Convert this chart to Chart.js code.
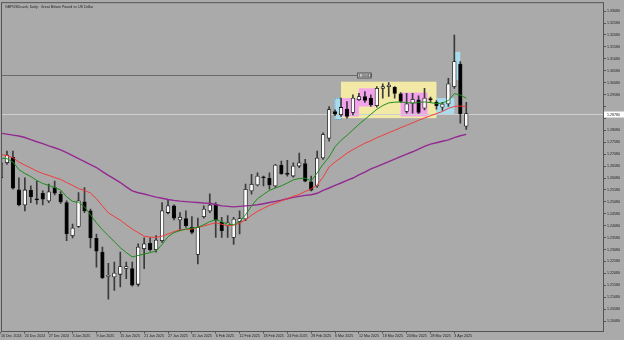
<!DOCTYPE html>
<html>
<head>
<meta charset="utf-8">
<script src="https://cdn.jsdelivr.net/npm/chart.js@4.4.1/dist/chart.umd.min.js"></script>
<style>
  html, body { margin: 0; padding: 0; background: #aaaaaa; }
  canvas { display: block; }
</style>
</head>
<body>
<canvas id="chart" width="624" height="340"></canvas>
<script>
// GBPUSD daily bars, 16 Dec 2024 .. 7 Apr 2025
const dates = [
    '16 Dec 2024', '17 Dec 2024', '18 Dec 2024', '19 Dec 2024', '20 Dec 2024',
    '23 Dec 2024', '24 Dec 2024', '26 Dec 2024', '27 Dec 2024', '30 Dec 2024',
    '31 Dec 2024', '2 Jan 2025', '3 Jan 2025', '6 Jan 2025', '7 Jan 2025',
    '8 Jan 2025', '9 Jan 2025', '10 Jan 2025', '13 Jan 2025', '14 Jan 2025',
    '15 Jan 2025', '16 Jan 2025', '17 Jan 2025', '20 Jan 2025', '21 Jan 2025',
    '22 Jan 2025', '23 Jan 2025', '24 Jan 2025', '27 Jan 2025', '28 Jan 2025',
    '29 Jan 2025', '30 Jan 2025', '31 Jan 2025', '3 Feb 2025', '4 Feb 2025',
    '5 Feb 2025', '6 Feb 2025', '7 Feb 2025', '10 Feb 2025', '11 Feb 2025',
    '12 Feb 2025', '13 Feb 2025', '14 Feb 2025', '17 Feb 2025', '18 Feb 2025',
    '19 Feb 2025', '20 Feb 2025', '21 Feb 2025', '24 Feb 2025', '25 Feb 2025',
    '26 Feb 2025', '27 Feb 2025', '28 Feb 2025', '3 Mar 2025', '4 Mar 2025',
    '5 Mar 2025', '6 Mar 2025', '7 Mar 2025', '10 Mar 2025', '11 Mar 2025',
    '12 Mar 2025', '13 Mar 2025', '14 Mar 2025', '17 Mar 2025', '18 Mar 2025',
    '19 Mar 2025', '20 Mar 2025', '21 Mar 2025', '24 Mar 2025', '25 Mar 2025',
    '26 Mar 2025', '27 Mar 2025', '28 Mar 2025', '31 Mar 2025', '1 Apr 2025',
    '2 Apr 2025', '3 Apr 2025', '4 Apr 2025', '7 Apr 2025'
];

const opens = [
    1.2609, 1.2672, 1.2695, 1.2558, 1.2495, 1.2557, 1.2520, 1.2544, 1.2512, 1.2568,
    1.2540, 1.2505, 1.2366, 1.2405, 1.2508, 1.2470, 1.2355, 1.2297, 1.2195, 1.2193,
    1.2204, 1.2229, 1.2228, 1.2162, 1.2311, 1.2334, 1.2307, 1.2345, 1.2463, 1.2491,
    1.2432, 1.2438, 1.2401, 1.2287, 1.2446, 1.2470, 1.2498, 1.2422, 1.2408, 1.2359,
    1.2426, 1.2436, 1.2554, 1.2579, 1.2613, 1.2607, 1.2575, 1.2662, 1.2629, 1.2616,
    1.2658, 1.2668, 1.2592, 1.2575, 1.2692, 1.2775, 1.2887, 1.2873, 1.2897, 1.2883,
    1.2936, 1.2950, 1.2943, 1.2911, 1.2984, 1.2991, 1.2988, 1.2961, 1.2887, 1.2922,
    1.2936, 1.2901, 1.2941, 1.2925, 1.2905, 1.2919, 1.2991, 1.3086, 1.2825
];
const highs = [
    1.2686, 1.2721, 1.2721, 1.2609, 1.2609, 1.2575, 1.2595, 1.2554, 1.2582, 1.2595,
    1.2551, 1.2512, 1.2415, 1.2547, 1.2568, 1.2478, 1.2373, 1.2318, 1.2250, 1.2255,
    1.2297, 1.2255, 1.2255, 1.2332, 1.2357, 1.2357, 1.2366, 1.2505, 1.2519, 1.2495,
    1.2463, 1.2470, 1.2446, 1.2440, 1.2491, 1.2542, 1.2505, 1.2443, 1.2450, 1.2443,
    1.2470, 1.2582, 1.2623, 1.2630, 1.2616, 1.2630, 1.2665, 1.2679, 1.2682, 1.2672,
    1.2713, 1.2686, 1.2616, 1.2721, 1.2797, 1.2908, 1.2894, 1.2943, 1.2929, 1.2957,
    1.2963, 1.2970, 1.2957, 1.2991, 1.3003, 1.3008, 1.2991, 1.2966, 1.2963, 1.2963,
    1.2953, 1.2984, 1.2947, 1.2933, 1.2925, 1.3026, 1.3207, 1.3096, 1.2925
];
const lows = [
    1.2603, 1.2665, 1.2561, 1.2491, 1.2470, 1.2505, 1.2498, 1.2495, 1.2505, 1.2537,
    1.2501, 1.2345, 1.2357, 1.2401, 1.2463, 1.2315, 1.2234, 1.2186, 1.2100, 1.2137,
    1.2151, 1.2186, 1.2154, 1.2154, 1.2228, 1.2301, 1.2297, 1.2338, 1.2457, 1.2432,
    1.2387, 1.2401, 1.2373, 1.2248, 1.2440, 1.2463, 1.2359, 1.2359, 1.2359, 1.2329,
    1.2373, 1.2429, 1.2540, 1.2575, 1.2575, 1.2561, 1.2568, 1.2623, 1.2616, 1.2612,
    1.2651, 1.2592, 1.2554, 1.2568, 1.2686, 1.2762, 1.2869, 1.2866, 1.2859, 1.2873,
    1.2933, 1.2925, 1.2908, 1.2905, 1.2943, 1.2950, 1.2943, 1.2925, 1.2880, 1.2880,
    1.2878, 1.2894, 1.2925, 1.2897, 1.2891, 1.2908, 1.2984, 1.2838, 1.2812
];
const closes = [
    1.2672, 1.2704, 1.2565, 1.2495, 1.2558, 1.2530, 1.2516, 1.2519, 1.2550, 1.2544,
    1.2508, 1.2373, 1.2398, 1.2512, 1.2470, 1.2357, 1.2301, 1.2190, 1.2200, 1.2209,
    1.2237, 1.2237, 1.2158, 1.2318, 1.2332, 1.2307, 1.2348, 1.2470, 1.2491, 1.2440,
    1.2443, 1.2408, 1.2380, 1.2401, 1.2478, 1.2495, 1.2432, 1.2387, 1.2420, 1.2436,
    1.2438, 1.2561, 1.2582, 1.2616, 1.2609, 1.2579, 1.2662, 1.2626, 1.2623, 1.2658,
    1.2672, 1.2595, 1.2557, 1.2692, 1.2790, 1.2895, 1.2876, 1.2904, 1.2866, 1.2943,
    1.2950, 1.2933, 1.2915, 1.2984, 1.2991, 1.2998, 1.2963, 1.2929, 1.2919, 1.2938,
    1.2883, 1.2943, 1.2936, 1.2911, 1.2918, 1.3003, 1.3096, 1.2878, 1.2878
];

// moving averages
const maFast = [
    1.2691, 1.2689, 1.2675, 1.2643, 1.2627, 1.2614, 1.2598, 1.2585, 1.2577, 1.2568,
    1.2558, 1.2529, 1.2510, 1.2506, 1.2487, 1.2454, 1.2420, 1.2391, 1.2366, 1.2341,
    1.2316, 1.2295, 1.2277, 1.2283, 1.2289, 1.2295, 1.2302, 1.2329, 1.2362, 1.2379,
    1.2387, 1.2394, 1.2398, 1.2401, 1.2412, 1.2425, 1.2433, 1.2425, 1.2414, 1.2412,
    1.2425, 1.2454, 1.2491, 1.2521, 1.2539, 1.2556, 1.2566, 1.2575, 1.2587, 1.2600,
    1.2606, 1.2607, 1.2596, 1.2629, 1.2666, 1.2696, 1.2739, 1.2766, 1.2787, 1.2810,
    1.2833, 1.2854, 1.2875, 1.2896, 1.2912, 1.2923, 1.2926, 1.2927, 1.2924, 1.2922,
    1.2925, 1.2927, 1.2924, 1.2920, 1.2922, 1.2933, 1.2962, 1.2956, 1.2943
];
const maMid = [
    1.2706, 1.2702, 1.2693, 1.2675, 1.2662, 1.2650, 1.2637, 1.2627, 1.2619, 1.2610,
    1.2602, 1.2589, 1.2577, 1.2564, 1.2556, 1.2545, 1.2521, 1.2491, 1.2462, 1.2446,
    1.2431, 1.2412, 1.2394, 1.2379, 1.2364, 1.2360, 1.2359, 1.2364, 1.2373, 1.2383,
    1.2391, 1.2392, 1.2394, 1.2401, 1.2407, 1.2414, 1.2420, 1.2414, 1.2408, 1.2410,
    1.2418, 1.2433, 1.2452, 1.2468, 1.2481, 1.2493, 1.2502, 1.2512, 1.2521, 1.2531,
    1.2539, 1.2552, 1.2562, 1.2579, 1.2612, 1.2654, 1.2675, 1.2693, 1.2712, 1.2727,
    1.2741, 1.2754, 1.2764, 1.2777, 1.2787, 1.2798, 1.2808, 1.2819, 1.2829, 1.2839,
    1.2850, 1.2860, 1.2869, 1.2878, 1.2887, 1.2900, 1.2908, 1.2910, 1.2908
];
const maSlow = [
    1.2796, 1.2792, 1.2788, 1.2784, 1.2778, 1.2769, 1.2760, 1.2752, 1.2743, 1.2735,
    1.2726, 1.2714, 1.2702, 1.2689, 1.2677, 1.2664, 1.2652, 1.2635, 1.2619, 1.2604,
    1.2589, 1.2571, 1.2554, 1.2546, 1.2541, 1.2534, 1.2528, 1.2523, 1.2518, 1.2514,
    1.2511, 1.2509, 1.2507, 1.2505, 1.2503, 1.2502, 1.2497, 1.2491, 1.2489, 1.2487,
    1.2489, 1.2491, 1.2493, 1.2496, 1.2500, 1.2505, 1.2510, 1.2515, 1.2521, 1.2527,
    1.2531, 1.2535, 1.2538, 1.2544, 1.2556, 1.2566, 1.2577, 1.2587, 1.2598, 1.2608,
    1.2621, 1.2633, 1.2646, 1.2656, 1.2666, 1.2677, 1.2687, 1.2698, 1.2708, 1.2718,
    1.2729, 1.2741, 1.2750, 1.2756, 1.2762, 1.2768, 1.2777, 1.2785, 1.2791
];

const xTickIdx = [0, 4, 8, 12, 16, 20, 24, 28, 32, 36, 40, 44, 48, 52, 56, 60, 64, 68, 72, 76];
const yTicks = [
    1.3308, 1.3258, 1.3208, 1.3158, 1.3108, 1.3058, 1.3008, 1.2958, 1.2908,
    1.2858, 1.2808, 1.2758, 1.2708, 1.2658, 1.2608, 1.2558, 1.2508, 1.2458,
    1.2408, 1.2358, 1.2308, 1.2258, 1.2208, 1.2158, 1.2108, 1.2058, 1.2008
];

// drawn objects: [from bar, to bar, top price, bottom price]
const zoneBox = [57, 73, 1.3012, 1.2859];
const pinkBoxes = [[57, 60, 1.2943, 1.2866], [60, 62.7, 1.2984, 1.2908], [67, 71.5, 1.2966, 1.2866]];
const blueBoxes = [[55.9, 57, 1.2943, 1.2855], [73, 76, 1.2943, 1.2874], [76, 77, 1.3137, 1.3019]];
const levelPrice = 1.30413;
const levelEnd = 59.7;
const lastPrice = 1.2878;

const FONT = 'Liberation Sans, Arial, sans-serif';

const bodies = dates.map(function(d, i) {
    return { x: i, y: [Math.min(opens[i], closes[i]), Math.max(opens[i], closes[i])] };
});
const wicks = dates.map(function(d, i) { return { x: i, y: [lows[i], highs[i]] }; });
const bodyColors = dates.map(function(d, i) { return closes[i] >= opens[i] ? '#ffffff' : '#000000'; });
const toPoints = function(arr) { return arr.map(function(v, i) { return { x: i, y: v }; }); };

const drawings = {
    id: 'drawings',
    beforeDatasetsDraw: function(chart) {
        const ctx = chart.ctx, a = chart.chartArea, x = chart.scales.x, y = chart.scales.y;
        ctx.save();
        ctx.beginPath();
        ctx.rect(a.left, a.top, a.right - a.left, a.bottom - a.top);
        ctx.clip();
        const box = function(b, fill) {
            const x1 = x.getPixelForValue(b[0]), x2 = x.getPixelForValue(b[1]);
            const y1 = y.getPixelForValue(b[2]), y2 = y.getPixelForValue(b[3]);
            ctx.fillStyle = fill;
            ctx.fillRect(x1, y1, x2 - x1, y2 - y1);
            return [x1, y1, x2 - x1, y2 - y1];
        };
        box(zoneBox, '#f3e9a6');
        pinkBoxes.forEach(function(b) { box(b, '#f2a3ec'); });
        blueBoxes.forEach(function(b, i) {
            const r = box(b, '#a8dcec');
            if (i === 0) {
                ctx.strokeStyle = '#5f9fc0';
                ctx.lineWidth = 1;
                ctx.setLineDash([1, 1]);
                ctx.strokeRect(r[0] + 0.5, r[1] + 0.5, r[2], r[3]);
                ctx.setLineDash([]);
            }
        });

        // horizontal level
        const ly = Math.round(y.getPixelForValue(levelPrice)) + 0.5;
        ctx.strokeStyle = '#6a6a6a';
        ctx.lineWidth = 1;
        ctx.beginPath();
        ctx.moveTo(a.left, ly);
        ctx.lineTo(x.getPixelForValue(levelEnd), ly);
        ctx.stroke();

        // bid line
        const py = Math.round(y.getPixelForValue(lastPrice)) + 0.5;
        ctx.strokeStyle = '#cfcfcf';
        ctx.beginPath();
        ctx.moveTo(a.left, py);
        ctx.lineTo(a.right, py);
        ctx.stroke();
        ctx.restore();
    },
    afterDraw: function(chart) {
        const ctx = chart.ctx, a = chart.chartArea, x = chart.scales.x, y = chart.scales.y;
        ctx.save();
        // frame
        ctx.strokeStyle = '#555555';
        ctx.lineWidth = 1;
        ctx.strokeRect(a.left - 0.5, a.top - 0.5, a.right - a.left + 1, a.bottom - a.top + 1);

        ctx.font = '3.6px ' + FONT;
        ctx.textBaseline = 'middle';

        // level label
        const lx = x.getPixelForValue(levelEnd);
        const ly = Math.round(y.getPixelForValue(levelPrice)) + 0.5;
        ctx.fillStyle = '#c4c4c4';
        ctx.fillRect(lx, ly - 2.5, 14, 5);
        ctx.strokeStyle = '#505050';
        ctx.strokeRect(lx + 0.5, ly - 2.5, 13.5, 5);
        ctx.fillStyle = '#202020';
        ctx.fillText(levelPrice.toFixed(5), lx + 1.6, ly);

        // bid label on the price axis
        const py = Math.round(y.getPixelForValue(lastPrice)) + 0.5;
        ctx.fillStyle = '#ffffff';
        ctx.fillRect(a.right + 1, py - 3, 20, 6);
        ctx.fillStyle = '#202020';
        ctx.fillText(lastPrice.toFixed(5), a.right + 4, py);

        // title
        ctx.textBaseline = 'top';
        ctx.fillText('GBPUSDcash, Daily:  Great Britain Pound vs US Dollar', 5, 5);
        ctx.restore();
    }
};

new Chart(document.getElementById('chart'), {
    type: 'bar',
    data: {
        datasets: [
            {
                type: 'line', label: 'MA fast', data: toPoints(maFast),
                borderColor: '#1e8c1e', borderWidth: 1, pointRadius: 0, tension: 0, order: 1
            },
            {
                type: 'line', label: 'MA mid', data: toPoints(maMid),
                borderColor: '#f03c3c', borderWidth: 1, pointRadius: 0, tension: 0, order: 1
            },
            {
                type: 'line', label: 'MA slow', data: toPoints(maSlow),
                borderColor: '#922a92', borderWidth: 1.4, pointRadius: 0, tension: 0, order: 1
            },
            {
                label: 'body', data: bodies, backgroundColor: bodyColors,
                borderColor: '#111111', borderWidth: 0.8, borderSkipped: false,
                barThickness: 3.6, grouped: false, minBarLength: 1, order: 2
            },
            {
                label: 'wick', data: wicks, backgroundColor: '#3a3a3a',
                barThickness: 1, grouped: false, order: 3
            }
        ]
    },
    options: {
        responsive: false,
        animation: false,
        devicePixelRatio: 1,
        layout: { padding: { left: 2, top: 1, right: 0, bottom: 0 } },
        plugins: { legend: { display: false }, tooltip: { enabled: false } },
        scales: {
            x: {
                type: 'linear',
                offset: false,
                min: 0.168,
                max: 100.92,
                bounds: 'data',
                afterBuildTicks: function(scale) {
                    scale.ticks = xTickIdx.map(function(v) { return { value: v }; });
                },
                afterFit: function(scale) { scale.height = 9; },
                grid: { offset: false, drawOnChartArea: false, drawTicks: true, tickLength: 2.5, color: '#555555' },
                border: { display: true, color: '#555555' },
                ticks: {
                    autoSkip: false, maxRotation: 0, align: 'start', padding: 0,
                    color: '#202020', font: { family: FONT, size: 3.6 },
                    callback: function(v) { return dates[v]; }
                }
            },
            y: {
                type: 'linear',
                position: 'right',
                min: 1.19663,
                max: 1.33413,
                bounds: 'data',
                afterBuildTicks: function(scale) {
                    scale.ticks = yTicks.map(function(v) { return { value: v }; });
                },
                afterFit: function(scale) { scale.width = 21; },
                grid: { drawOnChartArea: false, drawTicks: true, tickLength: 3, color: '#555555' },
                border: { display: true, color: '#555555' },
                ticks: {
                    padding: 1, color: '#202020', font: { family: FONT, size: 3.6 },
                    callback: function(v) {
                        return Math.abs(v - lastPrice) < 0.003 ? '' : v.toFixed(5);
                    }
                }
            }
        }
    },
    plugins: [drawings]
});
</script>
</body>
</html>
